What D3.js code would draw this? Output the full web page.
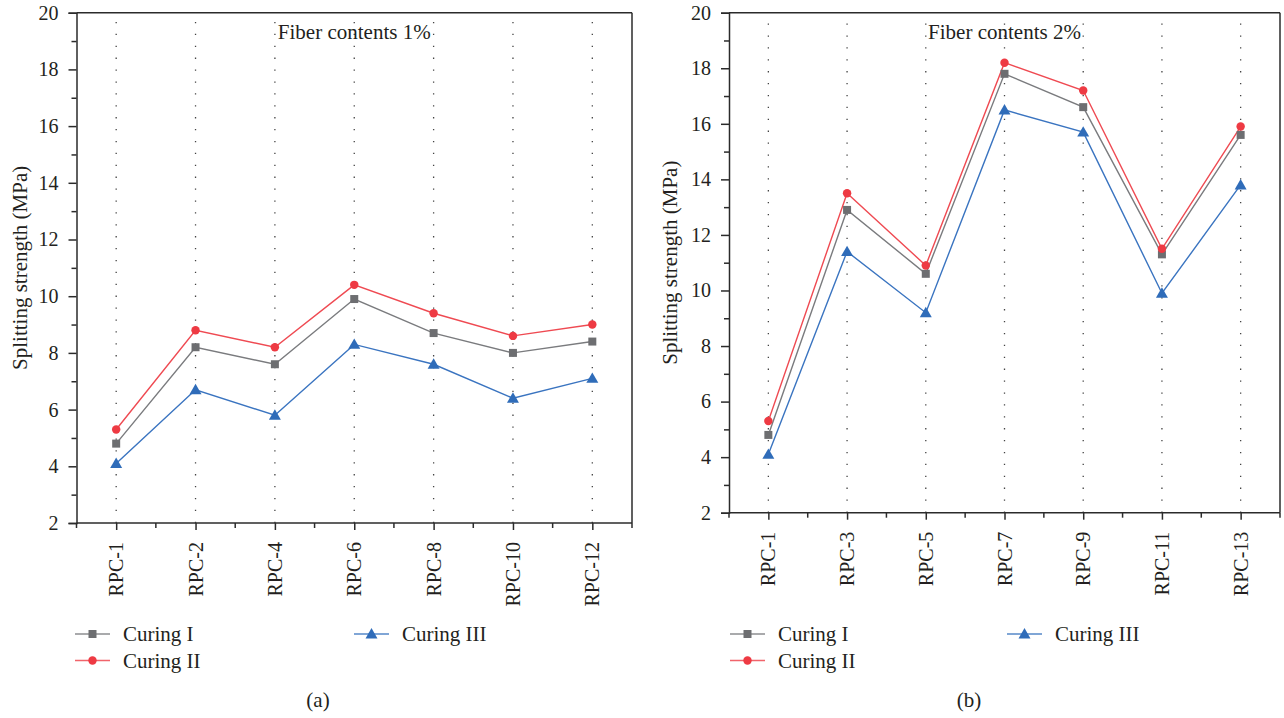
<!DOCTYPE html>
<html>
<head>
<meta charset="utf-8">
<script src="https://cdn.jsdelivr.net/npm/d3@7"></script>
<style>
  html, body { margin: 0; padding: 0; background: #fff; }
  svg { display: block; }
  svg text { font-family: "Liberation Serif", "DejaVu Serif", serif !important; }
</style>
</head>
<body>
<svg id="chart" width="1284" height="718"></svg>
<script>
// ---- data ----
const seriesNames = ["Curing I", "Curing II", "Curing III"];
const catsA = ["RPC-1", "RPC-2", "RPC-4", "RPC-6", "RPC-8", "RPC-10", "RPC-12"];
const curingI_A   = [4.8, 8.2, 7.6, 9.9, 8.7, 8.0, 8.4];
const curingII_A  = [5.3, 8.8, 8.2, 10.4, 9.4, 8.6, 9.0];
const curingIII_A = [4.1, 6.7, 5.8, 8.3, 7.6, 6.4, 7.1];

const catsB = ["RPC-1", "RPC-3", "RPC-5", "RPC-7", "RPC-9", "RPC-11", "RPC-13"];
const curingI_B   = [4.8, 12.9, 10.6, 17.8, 16.6, 11.3, 15.6];
const curingII_B  = [5.3, 13.5, 10.9, 18.2, 17.2, 11.5, 15.9];
const curingIII_B = [4.1, 11.4, 9.2, 16.5, 15.7, 9.9, 13.8];

const yTicks = [2, 4, 6, 8, 10, 12, 14, 16, 18, 20];
const yMinorTicks = [3, 5, 7, 9, 11, 13, 15, 17, 19];
const panelTitles = ["Fiber contents 1%", "Fiber contents 2%"];
const panelLetters = ["(a)", "(b)"];
const yTitle = "Splitting strength (MPa)";

// ---- styles ----
const FONT = "Liberation Serif";
const colors = ["#6d6e71", "#ee3a43", "#2f6cb9"];
const lineColors = ["#7a7b7e", "#ef4a52", "#3a74c0"];
const symbols = [d3.symbolSquare, d3.symbolCircle, d3.symbolTriangle];
const symSizes = [64, 56, 62];
const axisColor = "#2b2b2b";
const textColor = "#231f20";

const svg = d3.select("#chart").attr("font-family", FONT);

function drawPanel(cfg) {
  const g = svg.append("g").attr("font-family", FONT);
  const x = d3.scalePoint().domain(cfg.cats).range([cfg.x0, cfg.x1]).padding(0.5);
  const y = d3.scaleLinear().domain([2, 20]).range([cfg.yb, cfg.yt]);
  const step = x.step();

  // dotted gridlines
  g.append("g").selectAll("line").data(cfg.cats).join("line")
    .attr("x1", d => x(d)).attr("x2", d => x(d))
    .attr("y1", cfg.yb).attr("y2", cfg.yt)
    .attr("stroke", "#444").attr("stroke-width", 1.3)
    .attr("stroke-dasharray", "1.3,10.6");

  // box top and right
  g.append("line").attr("x1", cfg.x0).attr("x2", cfg.x1).attr("y1", cfg.yt).attr("y2", cfg.yt)
    .attr("stroke", axisColor).attr("stroke-width", 1.5);
  g.append("line").attr("x1", cfg.x1).attr("x2", cfg.x1).attr("y1", cfg.yt).attr("y2", cfg.yb)
    .attr("stroke", axisColor).attr("stroke-width", 1.5);

  // y axis
  const yAxis = d3.axisLeft(y).tickValues(yTicks).tickSize(8).tickPadding(10).tickFormat(d3.format("d"));
  const ya = g.append("g").attr("transform", `translate(${cfg.x0},0)`).call(yAxis)
    .attr("font-family", FONT).attr("font-size", 20);
  ya.select(".domain").attr("stroke", axisColor).attr("stroke-width", 1.5);
  ya.selectAll(".tick line").attr("stroke", axisColor).attr("stroke-width", 1.5);
  ya.selectAll(".tick text").attr("font-family", FONT).attr("font-size", 20)
    .attr("fill", textColor);
  const yMinor = d3.axisLeft(y).tickValues(yMinorTicks).tickSize(5).tickFormat("");
  const ym = g.append("g").attr("transform", `translate(${cfg.x0},0)`).call(yMinor);
  ym.select(".domain").remove();
  ym.selectAll(".tick line").attr("stroke", axisColor).attr("stroke-width", 1.5);

  // x axis
  const xAxis = d3.axisBottom(x).tickSize(7).tickFormat("");
  const xa = g.append("g").attr("transform", `translate(0,${cfg.yb})`).call(xAxis);
  xa.select(".domain").attr("stroke", axisColor).attr("stroke-width", 1.5).attr("d", `M${cfg.x0},0H${cfg.x1}`);
  xa.selectAll(".tick line").attr("stroke", axisColor).attr("stroke-width", 1.5);
  const bounds = d3.range(cfg.cats.length + 1).map(i => cfg.x0 + i * step);
  xa.append("g").selectAll("line").data(bounds).join("line")
    .attr("x1", d => d).attr("x2", d => d).attr("y1", 0).attr("y2", 5)
    .attr("stroke", axisColor).attr("stroke-width", 1.5);

  // x labels rotated
  g.append("g").selectAll("text").data(cfg.cats).join("text")
    .attr("transform", d => `translate(${x(d)},${cfg.yb + 19}) rotate(-90)`)
    .attr("text-anchor", "end").attr("dy", "0.35em")
    .attr("font-family", FONT).attr("font-size", 20).attr("fill", textColor)
    .text(d => d);

  // y title
  g.append("text")
    .attr("transform", `translate(${cfg.titleX},${(cfg.yt + cfg.yb) / 2}) rotate(-90)`)
    .attr("text-anchor", "middle").attr("font-family", FONT).attr("font-size", 21).attr("fill", textColor)
    .text(yTitle);

  // panel title
  g.append("text").attr("x", (cfg.x0 + cfg.x1) / 2).attr("y", cfg.yt + 26)
    .attr("text-anchor", "middle").attr("font-family", FONT).attr("font-size", 21).attr("fill", textColor)
    .text(cfg.title);

  // series
  const line = d3.line().x((d, i) => x(cfg.cats[i])).y(d => y(d));
  cfg.series.forEach((vals, s) => {
    g.append("path").datum(vals).attr("d", line)
      .attr("fill", "none").attr("stroke", lineColors[s]).attr("stroke-width", 1.4);
  });
  cfg.series.forEach((vals, s) => {
    g.append("g").selectAll("path").data(vals).join("path")
      .attr("transform", (d, i) => `translate(${x(cfg.cats[i])},${y(d) + (s === 2 ? 1 : 0)})`)
      .attr("d", d3.symbol().type(symbols[s]).size(symSizes[s]))
      .attr("fill", colors[s]);
  });

  // legend
  const leg = [
    { s: 0, lx: cfg.legX1, ly: 634 },
    { s: 1, lx: cfg.legX1, ly: 660.5 },
    { s: 2, lx: cfg.legX2, ly: 634 }
  ];
  leg.forEach(L => {
    const lg = g.append("g");
    lg.append("line").attr("x1", L.lx).attr("x2", L.lx + 35).attr("y1", L.ly).attr("y2", L.ly)
      .attr("stroke", lineColors[L.s]).attr("stroke-width", 1.6).attr("opacity", 0.85);
    lg.append("path").attr("transform", `translate(${L.lx + 17.5},${L.ly + (L.s === 2 ? 1 : 0)})`)
      .attr("d", d3.symbol().type(symbols[L.s]).size(symSizes[L.s]))
      .attr("fill", colors[L.s]);
    lg.append("text").attr("x", L.lx + 48).attr("y", L.ly + 7)
      .attr("font-family", FONT).attr("font-size", 21).attr("fill", textColor).text(seriesNames[L.s]);
  });

  // panel letter
  g.append("text").attr("x", cfg.letterX).attr("y", 707)
    .attr("text-anchor", "middle").attr("font-family", FONT).attr("font-size", 21).attr("fill", textColor)
    .text(cfg.letter);
}

drawPanel({
  cats: catsA, series: [curingI_A, curingII_A, curingIII_A],
  x0: 76.5, x1: 632, yt: 12.7, yb: 523,
  titleX: 27, title: panelTitles[0], letter: panelLetters[0], letterX: 318,
  legX1: 75, legX2: 354
});
drawPanel({
  cats: catsB, series: [curingI_B, curingII_B, curingIII_B],
  x0: 729, x1: 1280, yt: 12.7, yb: 512.7,
  titleX: 677, title: panelTitles[1], letter: panelLetters[1], letterX: 969,
  legX1: 730, legX2: 1007
});
</script>
</body>
</html>
